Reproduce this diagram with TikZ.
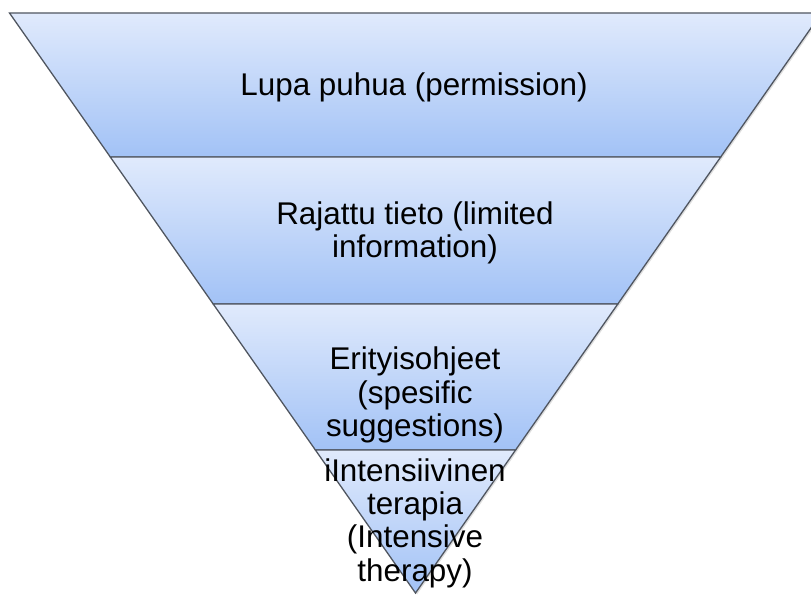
\documentclass[tikz,border=0pt]{standalone}
\usepackage{fontspec}
\setmainfont{Liberation Sans}
\usepackage{tikz}
\usetikzlibrary{calc,shadows,positioning}

\definecolor{bandtop}{RGB}{224,234,252}
\definecolor{bandbot}{RGB}{162,194,246}
\definecolor{bandline}{RGB}{80,86,96}

\begin{document}
\begin{tikzpicture}[
    x=1bp, y=-1bp,
    band/.style={draw=bandline, line width=1.3bp, top color=bandtop, bottom color=bandbot,
                 drop shadow={opacity=0.25, shadow xshift=1.5bp, shadow yshift=-1.5bp}},
    label/.style={align=center, font=\fontsize{31.5}{33.5}\selectfont, inner sep=0pt}
]
\useasboundingbox (0,0) rectangle (811,595);

% ================= COORDINATES =================
% left and right ends of each band edge
\coordinate (L0) at (9.5, 13);   \coordinate (R0) at (821.5, 13);
\coordinate (L1) at (110.3, 157); \coordinate (R1) at (720.7, 157);
\coordinate (L2) at (213.2, 304); \coordinate (R2) at (617.8, 304);
\coordinate (L3) at (315.4, 450); \coordinate (R3) at (515.6, 450);
\coordinate (Apex) at (415.5, 593);

% ================= BANDS =================
\path[band] (L0) -- (R0) -- (R1) -- (L1) -- cycle;
\path[band] (L1) -- (R1) -- (R2) -- (L2) -- cycle;
\path[band] (L2) -- (R2) -- (R3) -- (L3) -- cycle;
\path[band] (L3) -- (R3) -- (Apex) -- cycle;

% ================= LABELS =================
\node[label] (Permission) at (414, 87) {Lupa puhua (permission)};
\node[label] (Limited) at (415, 233) {Rajattu tieto (limited\\information)};
\node[label] (Specific) at (415, 395) {Erityisohjeet\\(spesific\\suggestions)};
\node[label] (Therapy) at (415, 523) {iIntensiivinen\\terapia\\(Intensive\\therapy)};

\end{tikzpicture}
\end{document}
